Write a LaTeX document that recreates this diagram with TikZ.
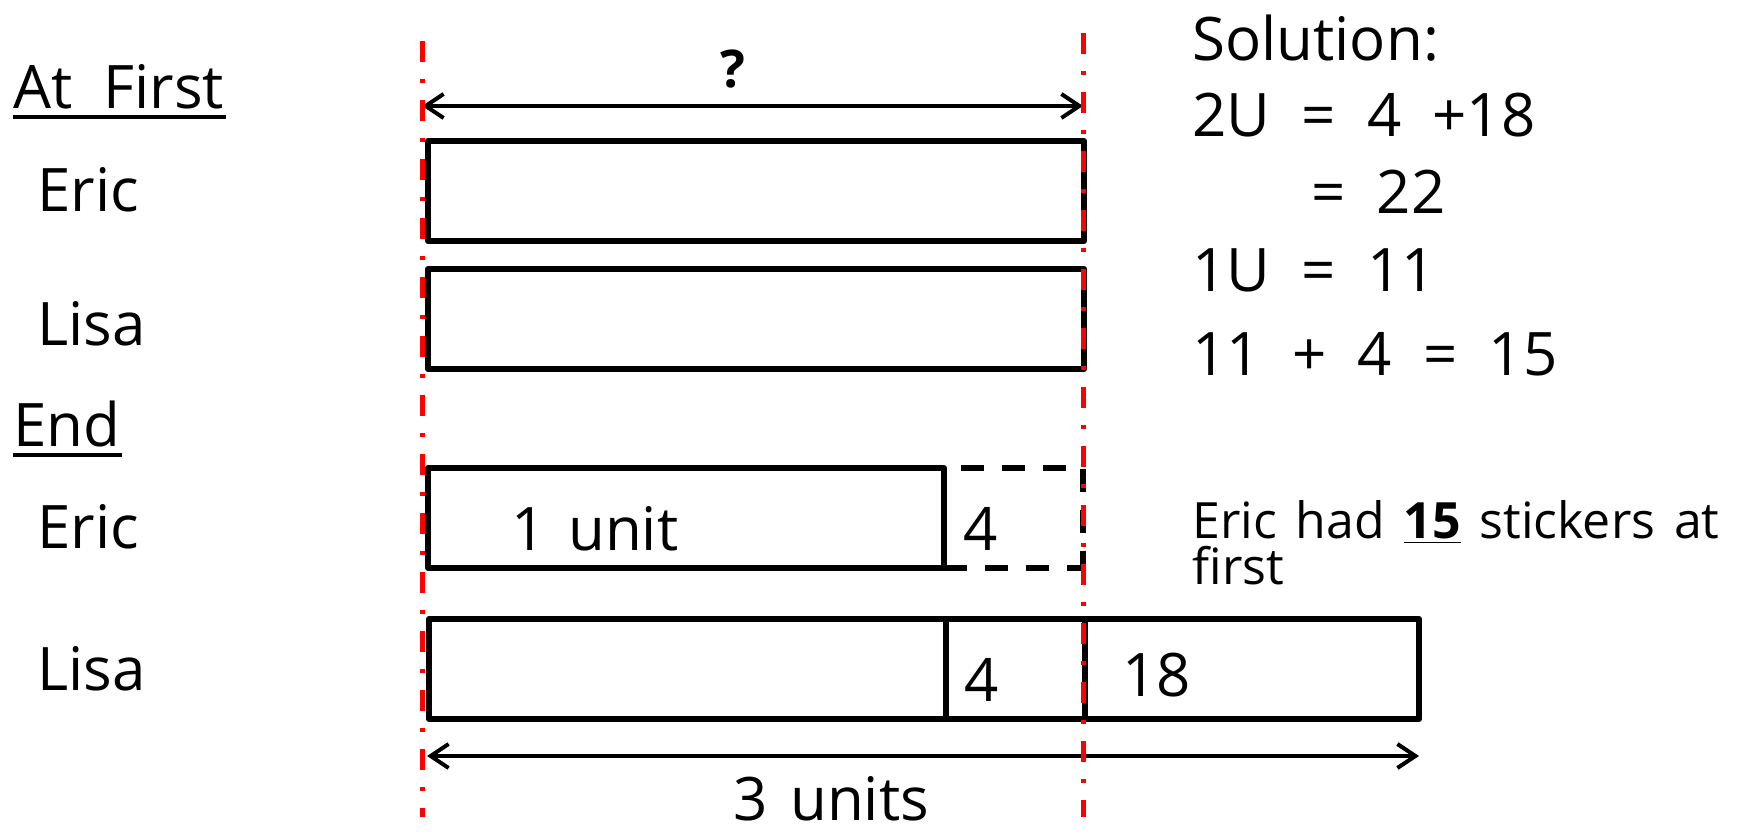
\documentclass[tikz,border=0pt]{standalone}
\usepackage{fontspec}
\setmainfont[WordSpace=1.45]{Open Sans}
\newfontfamily\widefont[WordSpace=2]{Open Sans}
\usetikzlibrary{arrows.meta}
\begin{document}
\begin{tikzpicture}[x=0.5pt,y=-0.5pt,
  big/.style={anchor=base west,inner sep=0pt,font=\fontsize{30}{36}\selectfont},
  wide/.style={anchor=base west,inner sep=0pt,font=\widefont\fontsize{30}{36}\selectfont},
  small/.style={anchor=base west,inner sep=0pt,font=\fontsize{25}{30}\selectfont},
  bar/.style={draw=black,line width=3pt,line join=round},
  divider/.style={draw=black,line width=3pt},
  dashedbar/.style={draw=black,line width=2.8pt,dash pattern=on 11.5pt off 9pt},
  redline/.style={draw=red,line width=2.5pt,dash pattern=on 10.5pt off 8.5pt on 2pt off 8.5pt},
  dim/.style={draw=black,line width=2pt,{Straight Barb[length=9pt,width=12pt,line width=2pt]}-{Straight Barb[length=9pt,width=12pt,line width=2pt]}},
  underl/.style={draw=black,line width=2pt},
]
\useasboundingbox (0,0) rectangle (1742,833);

% left labels
\node[wide] (atfirst) at (13,109) {At First};
\draw[underl] (13,117) -- (226,117);
\node[big] (eric1) at (37,212) {Eric};
\node[big] (lisa1) at (37,346) {Lisa};
\node[big] (endl) at (13,447) {End};
\draw[underl] (13,455) -- (122,455);
\node[big] (eric2) at (37,549) {Eric};
\node[big] (lisa2) at (37,691) {Lisa};

% top dimension
\coordinate (qa) at (422,106);
\coordinate (qb) at (1083,106);
\draw[dim] (qa) -- (qb);
\node[anchor=base,inner sep=0pt,font=\fontsize{26}{30}\selectfont\bfseries] (q) at (733,88) {?};

% at first bars
\draw[bar] (428,141) rectangle (1084,241);
\draw[bar] (428,269) rectangle (1084,369);

% end: Eric
\draw[bar] (944,468) -- (428,468) -- (428,568) -- (944,568) -- cycle;
\draw[dashedbar,dash phase=12pt] (944,468) -- (1083,468) -- (1083,568);
\draw[dashedbar] (944,568) -- (1083,568);
\node[big] (unit1) at (511,551) {1 unit};
\node[big] (four1) at (963,551) {4};

% end: Lisa
\draw[bar] (429,619) rectangle (1419,719);
\draw[divider] (946,619) -- (946,719);
\draw[divider] (1085,619) -- (1085,719);
\node[big] (four2) at (964,702) {4};
\node[big] (eighteen) at (1122,697) {18};

% bottom dimension
\coordinate (ua) at (427,756);
\coordinate (ub) at (1419,756);
\draw[dim] (ua) -- (ub);
\node[big] (units3) at (733,821) {3 units};

% red guide lines
\coordinate (rl1) at (422,41);
\coordinate (rl2) at (422,817);
\coordinate (rr1) at (1083,33);
\coordinate (rr2) at (1083,817);
\draw[redline] (rl1) -- (rl2);
\draw[redline] (rr1) -- (rr2);

% solution
\node[wide] (sol) at (1192,61) {Solution:};
\node[wide] (s1) at (1192,137) {2U = 4 +18};
\node[wide] (s2) at (1311,214) {= 22};
\node[wide] (s3) at (1192,292) {1U = 11};
\node[wide] (s4) at (1192,376) {11 + 4 = 15};
\node[small] (ans1) at (1192,539) {Eric had \underline{\textbf{15}} stickers at};
\node[small] (ans2) at (1192,585) {first};
\end{tikzpicture}
\end{document}
